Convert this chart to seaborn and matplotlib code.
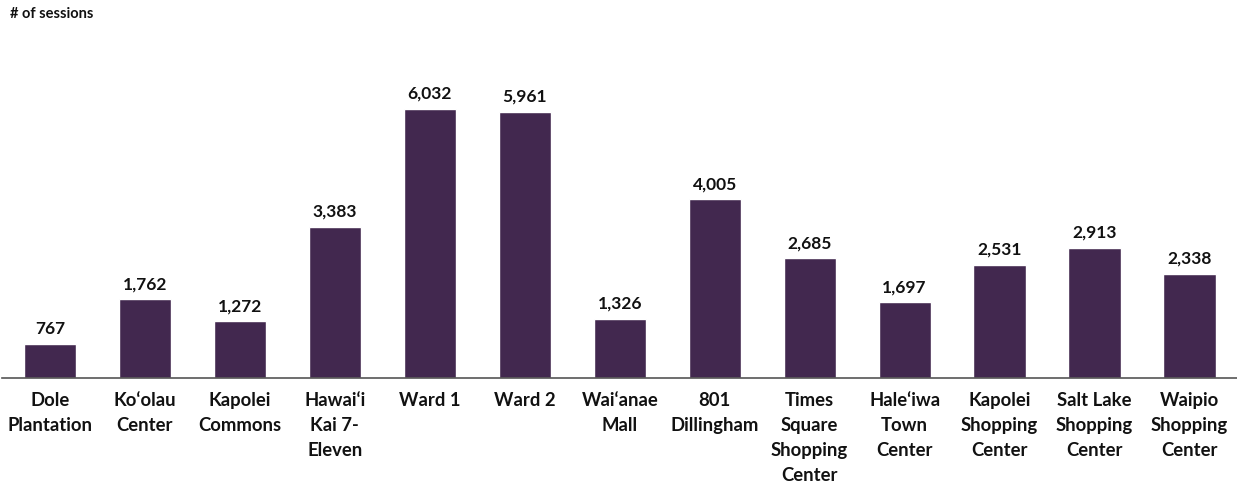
import matplotlib
matplotlib.use("Agg")
import matplotlib.pyplot as plt
import seaborn as sns
import pandas as pd

categories = ["Dole\nPlantation", "Ko‘olau\nCenter", "Kapolei\nCommons", "Hawai‘i\nKai 7-\nEleven",
              "Ward 1", "Ward 2", "Wai‘anae\nMall", "801\nDillingham", "Times\nSquare\nShopping\nCenter",
              "Hale‘iwa\nTown\nCenter", "Kapolei\nShopping\nCenter", "Salt Lake\nShopping\nCenter",
              "Waipio\nShopping\nCenter"]
sessions = [767, 1762, 1272, 3383, 6032, 5961, 1326, 4005, 2685, 1697, 2531, 2913, 2338]

sns.set_theme(style="white")
plt.rcParams['font.family'] = ['Lato', 'DejaVu Sans']

df = pd.DataFrame({"site": categories, "sessions": sessions})

fig = plt.figure(figsize=(12.37, 4.84), dpi=100)
ax = fig.add_axes([0.002, 1 - 378/484, 0.998, (378 - 40)/484])
sns.barplot(data=df, x="site", y="sessions", color="#42284f", saturation=1, width=0.55, ax=ax)
ax.set_ylim(0, 7566)
ax.set_xlim(-0.5, len(categories) - 0.5)
for sp in ["top", "right", "left"]:
    ax.spines[sp].set_visible(False)
ax.spines["bottom"].set_color("#555555")
ax.spines["bottom"].set_linewidth(1.2)
ax.set_yticks([])
ax.set_xlabel("")
ax.set_ylabel("")
ax.tick_params(axis="x", length=0, pad=10)
for lbl in ax.get_xticklabels():
    lbl.set_fontweight("bold")
    lbl.set_fontsize(13.3)
    lbl.set_linespacing(1.58)
    lbl.set_color("#111111")
    lbl.set_verticalalignment("top")
for i, v in enumerate(sessions):
    ax.annotate(f"{v:,}", (i, v), xytext=(0, 5), textcoords="offset points",
                ha="center", va="bottom", fontsize=12.5, fontweight="bold", color="#111111")
fig.text(10/1237, 1 - 14/484, "# of sessions", fontsize=10.5, fontweight="bold", va="center", ha="left", color="#111111")
fig.savefig("out.png", dpi=100)
